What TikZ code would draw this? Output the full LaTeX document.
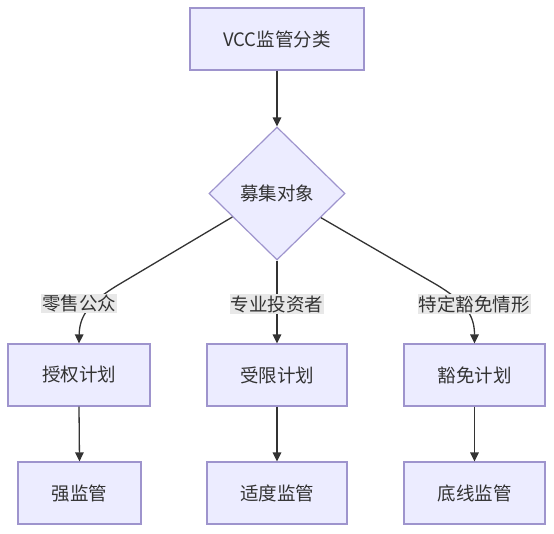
\documentclass[tikz,border=0pt]{standalone}
\usepackage{fontspec}
\setmainfont{Noto Sans CJK SC}
\usetikzlibrary{shapes.geometric,arrows.meta,calc}
\definecolor{nodefill}{HTML}{ECECFF}
\definecolor{nodeedge}{RGB}{158,148,205}
\definecolor{txt}{HTML}{333333}
\definecolor{lbl}{HTML}{E8E8E8}
\tikzset{
  box/.style={draw=nodeedge, fill=nodefill, line width=1.2pt, rectangle,
    minimum height=62pt, inner sep=0pt, text=txt, font=\fontsize{18.5pt}{20pt}\selectfont},
  dia/.style={draw=nodeedge, fill=nodefill, line width=1.2pt, diamond,
    minimum width=136pt, minimum height=133pt, inner sep=0pt, text=txt,
    font=\fontsize{18.5pt}{20pt}\selectfont},
  elabel/.style={fill=lbl, inner xsep=1pt, inner ysep=1pt, text=txt,
    font=\fontsize{18.5pt}{20pt}\selectfont},
  conn/.style={draw=txt, line width=1.3pt},
  arr/.style={conn, -{Triangle[length=9pt,width=8.5pt]}},
}
\begin{document}
\begin{tikzpicture}[x=1pt,y=-1pt]
\useasboundingbox[fill=white] (0,0) rectangle (554,533);
\node[box, minimum width=174pt] (top) at (277,39) {VCC监管分类};
\node[dia] (d) at (277,193.5) {募集对象};
\node[box, minimum width=142pt] (b1) at (79,375) {授权计划};
\node[box, minimum width=140pt] (b2) at (277,375) {受限计划};
\node[box, minimum width=141pt] (b3) at (474.5,375) {豁免计划};
\node[box, minimum width=123pt] (c1) at (79.5,493) {强监管};
\node[box, minimum width=140pt] (c2) at (277,493) {适度监管};
\node[box, minimum width=141pt] (c3) at (474.5,493) {底线监管};

\coordinate (l1) at (118,285);
\coordinate (r1) at (437,285);
\draw[arr] (top.south) -- (d.north);
\draw[arr] ($(d.west)!0.35!(d.south)$) -- (l1) .. controls (90,302) and (79.5,315) .. (b1.north);
\draw[arr] (d.south) -- (b2.north);
\draw[arr] ($(d.east)!0.36!(d.south)$) -- (r1) .. controls (465,302) and (474.5,315) .. (b3.north);
\draw[arr] (b1.south) -- (c1.north);
\draw[arr] (b2.south) -- (c2.north);
\draw[arr] (b3.south) -- (c3.north);

\node[elabel] (e1) at (79,303.5) {零售公众};
\node[elabel] (e2) at (277,304) {专业投资者};
\node[elabel] (e3) at (474,304) {特定豁免情形};
\end{tikzpicture}
\end{document}
